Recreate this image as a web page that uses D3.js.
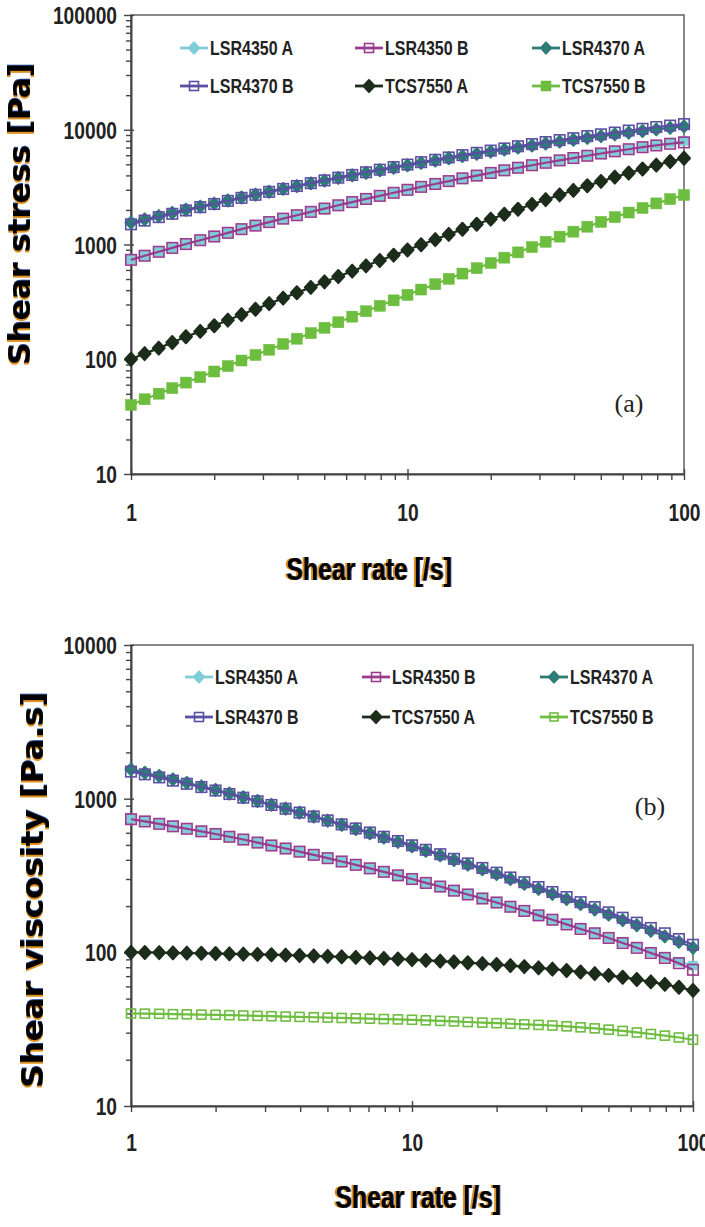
<!DOCTYPE html>
<html><head><meta charset="utf-8">
<script src="https://cdnjs.cloudflare.com/ajax/libs/d3/7.8.5/d3.min.js"></script>
<style>
html,body{margin:0;padding:0;background:#fff;}
svg{display:block;}
.ttl{filter:drop-shadow(-1.3px 0 0 #e0901e) drop-shadow(1.2px 0 0 #2a4f9a);}
</style></head>
<body>
<svg id="chart" width="705" height="1227"></svg>
<script>
const rates = [1,1.12,1.26,1.41,1.58,1.78,2,2.24,2.51,2.82,3.16,3.55,3.98,4.47,5.01,5.62,6.31,7.08,7.94,8.91,10,11.2,12.6,14.1,15.8,17.8,20,22.4,25.1,28.2,31.6,35.5,39.8,44.7,50.1,56.2,63.1,70.8,79.4,89.1,100];

const seriesNames = ["LSR4350 A","LSR4350 B","LSR4370 A","LSR4370 B","TCS7550 A","TCS7550 B"];
const seriesColors = ["#7fcdd6","#9b3a8e","#2b7d76","#5a4fa2","#1d2d1c","#6dbd3e"];

// (a) shear stress [Pa]
const stressLSR4350A = [740,801,867,937,1012,1092,1176,1266,1361,1463,1570,1682,1801,1927,2059,2198,2344,2497,2657,2824,2999,3181,3372,3569,3774,3987,4207,4435,4670,4912,5162,5417,5681,5951,6227,6510,6799,7091,7389,7709,7998];
const stressLSR4350B = [735,798,864,934,1009,1090,1175,1264,1360,1461,1568,1680,1800,1925,2057,2196,2342,2495,2655,2822,2997,3180,3370,3567,3772,3985,4205,4432,4667,4908,5155,5408,5668,5935,6208,6485,6765,7045,7300,7550,7760];
const stressLSR4370A = [1550,1655,1767,1885,2009,2138,2274,2417,2566,2721,2884,3053,3229,3414,3604,3802,4007,4220,4439,4665,4898,5138,5385,5639,5899,6166,6439,6718,7002,7292,7586,7885,8188,8495,8806,9120,9436,9755,10074,10394,10715];
const stressLSR4370B = [1500,1616,1731,1851,1981,2116,2254,2400,2550,2711,2877,3051,3233,3422,3619,3824,4038,4262,4488,4724,4970,5217,5477,5737,6007,6294,6584,6874,7184,7496,7810,8125,8440,8800,9122,9447,9844,10194,10564,10874,11200];
const stressTCS7550A = [100,112,125,140,157,175,196,219,245,273,305,341,380,423,472,526,586,652,725,807,896,995,1104,1225,1357,1502,1662,1836,2027,2235,2460,2704,2966,3248,3548,3869,4202,4552,4917,5285,5650];
const stressTCS7550B = [40,44.8,50.1,56,62.6,69.9,78.2,87.3,97.5,109,121,136,151,169,188,210,235,262,292,326,364,405,451,502,558,621,690,768,854,950,1056,1171,1294,1429,1574,1732,1899,2081,2280,2487,2700];

// (b) shear viscosity [Pa.s]
const viscLSR4350A = [740,714,689,663,639,614,590,566,542,519,496,474,453,431,411,391,372,353,334,317,300,284,268,253,238,224,211,198,186,174,163,153,143,133,124,116,108,100,93,87,82];
const viscLSR4350B = [735,711,686,661,637,613,589,565,542,518,496,474,452,431,410,390,371,352,334,317,300,283,268,252,238,224,211,198,186,174,163,152,142,133,124,115,107,99,92,85,77];
const viscLSR4370A = [1550,1475,1404,1334,1267,1202,1140,1080,1021,966,912,861,811,764,719,676,635,596,559,523,490,458,428,399,372,347,323,300,279,259,240,222,206,190,176,162,150,138,127,117,107];
const viscLSR4370B = [1500,1440,1375,1310,1250,1190,1130,1072,1015,962,910,860,812,766,722,680,640,602,565,530,497,465,435,406,379,354,330,307,286,266,247,229,212,197,182,168,156,144,133,122,112];
const viscTCS7550A = [100,99.8,99.5,99.2,98.9,98.6,98.2,97.8,97.4,97,96.5,96,95.4,94.8,94.2,93.5,92.8,92.1,91.3,90.5,89.6,88.7,87.7,86.7,85.6,84.5,83.3,82,80.7,79.3,77.8,76.2,74.5,72.7,70.8,68.8,66.6,64.3,61.9,59.3,56.5];
const viscTCS7550B = [40,39.9,39.8,39.6,39.5,39.3,39.2,39,38.8,38.6,38.4,38.2,38,37.8,37.6,37.4,37.2,37,36.8,36.6,36.4,36.1,35.8,35.5,35.2,34.9,34.6,34.3,34,33.7,33.4,33,32.5,32,31.4,30.8,30.1,29.4,28.7,27.9,27];

const xTicks = [1,10,100];
const yTicksA = [10,100,1000,10000,100000];
const yTicksB = [10,100,1000,10000];
const xTitle = "Shear rate [/s]";
const yTitleA = "Shear stress [Pa]";
const yTitleB = "Shear viscosity [Pa.s]";

const FONT = "'Liberation Sans',Arial,sans-serif";
const YFONT = "'DejaVu Sans',Verdana,sans-serif";
const svg = d3.select("#chart");

function condense(sel, f){
  sel.each(function(){
    const L = this.getComputedTextLength();
    d3.select(this).attr("textLength", L*f).attr("lengthAdjust","spacingAndGlyphs");
  });
}

function drawMarker(g, cx, cy, st, color){
  const s = st.size;
  if(st.shape==="square"){
    g.append("rect").attr("x",cx-s/2).attr("y",cy-s/2).attr("width",s).attr("height",s)
     .attr("fill", st.fill?color:"none")
     .attr("stroke", color).attr("stroke-width", st.fill?0.5:1.6);
  } else {
    const h = s/2, w = s*0.46;
    g.append("path").attr("d",`M${cx},${cy-h}L${cx+w},${cy}L${cx},${cy+h}L${cx-w},${cy}Z`)
     .attr("fill", color).attr("stroke", color).attr("stroke-width",2).attr("stroke-linejoin","round");
  }
}

function drawChart(cfg){
  const g = svg.append("g");
  const x = d3.scaleLog().domain([1,100]).range([cfg.x0,cfg.x1]);
  const y = d3.scaleLog().domain(cfg.yDomain).range([cfg.y1,cfg.y0]);

  g.append("rect").attr("x",cfg.x0).attr("y",cfg.y0).attr("width",cfg.x1-cfg.x0).attr("height",cfg.y1-cfg.y0)
   .attr("fill","#fff").attr("stroke","#6b6b6b").attr("stroke-width",1.6);

  const xMinor = []; for(let d=1; d<100; d*=10) for(let m=2;m<=9;m++) xMinor.push(d*m);
  const yMinor = []; for(let d=cfg.yDomain[0]; d<cfg.yDomain[1]; d*=10) for(let m=2;m<=9;m++) yMinor.push(d*m);

  const ax = g.append("g").attr("transform",`translate(0,${cfg.y1})`)
    .call(d3.axisBottom(x).tickValues(xMinor).tickSize(6).tickFormat(""));
  ax.select(".domain").remove();
  const axM = g.append("g").attr("transform",`translate(0,${cfg.y1})`)
    .call(d3.axisBottom(x).tickValues(xTicks).tickSize(6).tickSizeOuter(0).tickFormat(d3.format("d")).tickPadding(cfg.xPad));
  axM.selectAll(".tick line").attr("y1",-5);
  axM.selectAll("text").attr("font-family",FONT).attr("font-weight","bold").attr("font-size",24).attr("fill","#222");
  condense(axM.selectAll("text"), 0.8);
  const ay = g.append("g").attr("transform",`translate(${cfg.x0},0)`)
    .call(d3.axisLeft(y).tickValues(yMinor).tickSize(5).tickFormat(""));
  ay.select(".domain").remove();
  const ayM = g.append("g").attr("transform",`translate(${cfg.x0},0)`)
    .call(d3.axisLeft(y).tickValues(cfg.yTicks).tickSize(7).tickSizeOuter(0).tickFormat(d3.format("d")).tickPadding(7));
  ayM.selectAll(".tick line").attr("x1",3);
  ayM.selectAll("text").attr("font-family",FONT).attr("font-weight","bold").attr("font-size",24).attr("fill","#222").attr("dy","0.36em");
  condense(ayM.selectAll("text"), 0.8);
  g.selectAll(".tick line").attr("stroke","#444").attr("stroke-width",1.4);
  g.selectAll(".domain").attr("stroke","#444").attr("stroke-width",2);

  const line = d3.line().x(d=>x(d[0])).y(d=>y(d[1]));
  cfg.series.forEach((vals,i)=>{
    const pts = rates.map((r,j)=>[r,vals[j]]);
    g.append("path").attr("d",line(pts)).attr("fill","none").attr("stroke",seriesColors[i]).attr("stroke-width",2.2);
    const mg = g.append("g");
    pts.forEach(p=>drawMarker(mg, x(p[0]), y(p[1]), cfg.markers[i], seriesColors[i]));
  });

  const lg = g.append("g");
  seriesNames.forEach((n,i)=>{
    const col = i%3, row = Math.floor(i/3);
    const lx = cfg.legX[col], ly = cfg.legY[row];
    lg.append("line").attr("x1",lx-14).attr("x2",lx+14).attr("y1",ly).attr("y2",ly)
      .attr("stroke",seriesColors[i]).attr("stroke-width",2.8);
    drawMarker(lg, lx, ly, cfg.legMarkers[i], seriesColors[i]);
    const t = lg.append("text").attr("x",lx+16).attr("y",ly).attr("dy","0.36em")
      .attr("font-family",FONT).attr("font-weight","bold").attr("font-size",20).attr("fill","#222").text(n);
    condense(t, 0.8);
  });

  g.append("text").attr("x",cfg.tag[0]).attr("y",cfg.tag[1]).attr("text-anchor","middle")
    .attr("font-family","'Liberation Serif','Times New Roman',serif").attr("font-size",26).attr("fill","#222").text(cfg.tag[2]);

  const xt = g.append("text").attr("class","ttl").attr("x",cfg.xTitlePos[0]).attr("y",cfg.xTitlePos[1])
    .attr("text-anchor","middle").attr("font-family",FONT).attr("font-weight","bold").attr("font-size",31).attr("fill","#000").text(xTitle);
  condense(xt, 0.8);
  g.append("text").attr("class","ttl").attr("x",cfg.yTitlePos[0]).attr("y",cfg.yTitlePos[1])
    .attr("text-anchor","middle").attr("font-family",YFONT).attr("font-weight","bold").attr("font-size",30).attr("fill","#000")
    .attr("transform",`rotate(-90,${cfg.yTitlePos[0]},${cfg.yTitlePos[1]})`)
    .attr("textLength",cfg.yTitleLen).attr("lengthAdjust","spacingAndGlyphs").text(cfg.yTitle);
}

const mkA = [
  {shape:"square", fill:true, size:9},
  {shape:"square", fill:false, size:10.5},
  {shape:"diamond", fill:true, size:12},
  {shape:"square", fill:false, size:10.5},
  {shape:"diamond", fill:true, size:13},
  {shape:"square", fill:true, size:11}];
const mkB = mkA.map((m,i)=> i===5 ? {shape:"square", fill:false, size:9} : m);
const legA = [
  {shape:"diamond", fill:true, size:11},
  {shape:"square", fill:false, size:9},
  {shape:"diamond", fill:true, size:11},
  {shape:"square", fill:false, size:9},
  {shape:"diamond", fill:true, size:12},
  {shape:"square", fill:true, size:10}];
const legB = legA.map((m,i)=> i===5 ? {shape:"square", fill:false, size:8} : m);

drawChart({
  x0:131, x1:684, y0:15, y1:474, yDomain:[10,100000], yTicks:yTicksA,
  series:[stressLSR4350A,stressLSR4350B,stressLSR4370A,stressLSR4370B,stressTCS7550A,stressTCS7550B],
  markers:mkA, legMarkers:legA, xPad:24,
  legX:[194,369,546], legY:[48,86],
  tag:[629,412,"(a)"],
  xTitlePos:[369,580], yTitlePos:[30,214], yTitle:yTitleA, yTitleLen:302
});
drawChart({
  x0:131, x1:693, y0:645, y1:1106, yDomain:[10,10000], yTicks:yTicksB,
  series:[viscLSR4350A,viscLSR4350B,viscLSR4370A,viscLSR4370B,viscTCS7550A,viscTCS7550B],
  markers:mkB, legMarkers:legB, xPad:22,
  legX:[199,376,554], legY:[677,717],
  tag:[650,815,"(b)"],
  xTitlePos:[418,1208], yTitlePos:[43,890], yTitle:yTitleB, yTitleLen:396
});
</script>
</body></html>
